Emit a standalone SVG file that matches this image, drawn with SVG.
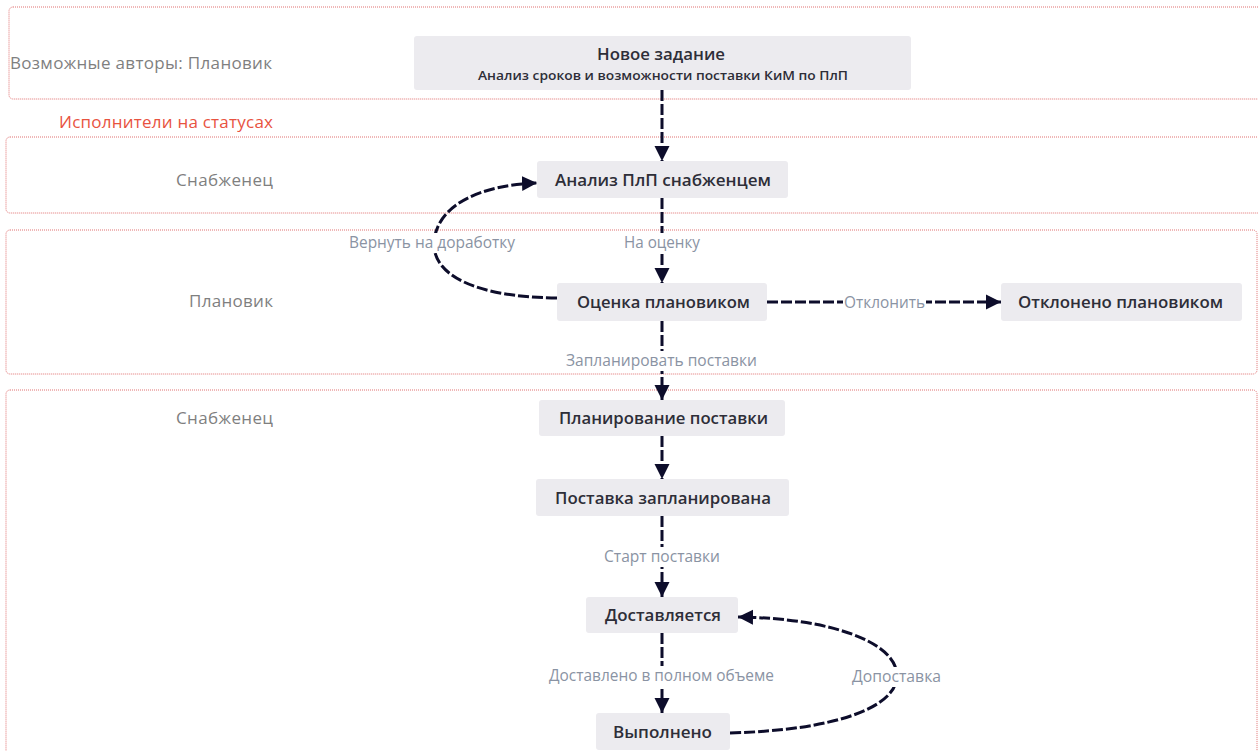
<svg xmlns="http://www.w3.org/2000/svg" width="1258" height="751" viewBox="0 0 1258 751">
<style>
.lane{fill:#fff;stroke:#e07070;stroke-width:1;stroke-dasharray:1 1}
.node rect{fill:#ecebef}
.nt{font-family:"Open Sans","Noto Sans",sans-serif;font-size:17px;font-weight:600;fill:#2e2e38;text-anchor:middle}
.sub{font-family:"Open Sans","Noto Sans",sans-serif;font-size:13px;font-weight:600;fill:#2e2e38;text-anchor:middle}
.ll{font-family:"Open Sans","Noto Sans",sans-serif;font-size:17px;fill:#7f7f7f}
.el{font-family:"Open Sans","Noto Sans",sans-serif;font-size:15.5px;fill:#8a93a3;text-anchor:middle}
.c{fill:none;stroke:#0d0d2b;stroke-width:3;stroke-dasharray:11 3}
.lb{fill:#fff}
</style>
<defs>
<marker id="ah" markerUnits="userSpaceOnUse" markerWidth="18" markerHeight="18" refX="15" refY="9" orient="auto">
<path d="M0,1.5 L15,9 L0,16.5 Z" fill="#0d0d2b"/>
</marker>
</defs>
<rect width="1258" height="751" fill="#fff"/>
<g id="lanes">
<rect class="lane" x="9" y="7" width="1260" height="92" rx="4"/>
<rect class="lane" x="6" y="137" width="1263" height="76" rx="4"/>
<rect class="lane" x="6" y="230" width="1251" height="144" rx="4"/>
<rect class="lane" x="6" y="390" width="1251" height="380" rx="4"/>
<text class="ll" x="10" y="69" textLength="262" lengthAdjust="spacing">Возможные авторы: Плановик</text>
<text class="ll" x="59" y="128" textLength="214" lengthAdjust="spacing" style="fill:#e8533f">Исполнители на статусах</text>
<text class="ll" x="273" y="186" text-anchor="end" textLength="97" lengthAdjust="spacing">Снабженец</text>
<text class="ll" x="273" y="307" text-anchor="end" textLength="84" lengthAdjust="spacing">Плановик</text>
<text class="ll" x="273" y="424" text-anchor="end" textLength="97" lengthAdjust="spacing">Снабженец</text>
</g>
<g id="connectors">
<path class="c" d="M662,90 L662,161" marker-end="url(#ah)"/>
<path class="c" d="M662,198 L662,283" marker-end="url(#ah)"/>
<path class="c" d="M662,321 L662,400" marker-end="url(#ah)"/>
<path class="c" d="M662,436 L662,479" marker-end="url(#ah)"/>
<path class="c" d="M662,516 L662,597" marker-end="url(#ah)"/>
<path class="c" d="M662,633 L662,713" marker-end="url(#ah)"/>
<path class="c" d="M767,302 L1001,302" marker-end="url(#ah)"/>
<path class="c" d="M557,298 C475,297 432,275 434,242 C437,205 480,185 537,183" marker-end="url(#ah)"/>
<path class="c" d="M730,733 C835,730 896,708 897,676 C897,642 830,618 738,617" marker-end="url(#ah)"/>
<rect class="lb" x="622" y="233" width="80" height="20"/>
<text class="el" x="662" y="248" textLength="76" lengthAdjust="spacingAndGlyphs">На оценку</text>
<rect class="lb" x="347" y="233" width="170" height="20"/>
<text class="el" x="432" y="248" textLength="166" lengthAdjust="spacingAndGlyphs">Вернуть на доработку</text>
<rect class="lb" x="843" y="293" width="83" height="20"/>
<text class="el" x="884.5" y="308" textLength="81" lengthAdjust="spacingAndGlyphs">Отклонить</text>
<rect class="lb" x="564" y="351" width="195" height="20"/>
<text class="el" x="661.5" y="366" textLength="191" lengthAdjust="spacingAndGlyphs">Запланировать поставки</text>
<rect class="lb" x="602" y="547" width="120" height="20"/>
<text class="el" x="662" y="562" textLength="116" lengthAdjust="spacingAndGlyphs">Старт поставки</text>
<rect class="lb" x="547" y="666" width="229" height="20"/>
<text class="el" x="661.5" y="681" textLength="225" lengthAdjust="spacingAndGlyphs">Доставлено в полном объеме</text>
<rect class="lb" x="850" y="667" width="93" height="20"/>
<text class="el" x="896.5" y="682" textLength="89" lengthAdjust="spacingAndGlyphs">Допоставка</text>
</g>
<g id="n1" class="node"><rect x="414" y="36" width="497" height="54" rx="3"/><text class="nt" x="661" y="60" textLength="128" lengthAdjust="spacingAndGlyphs">Новое задание</text><text class="sub" x="663" y="80" textLength="370" lengthAdjust="spacingAndGlyphs">Анализ сроков и возможности поставки КиМ по ПлП</text></g>
<g id="n2" class="node"><rect x="537" y="161" width="251" height="37" rx="3"/><text class="nt" x="663" y="186" textLength="216" lengthAdjust="spacingAndGlyphs">Анализ ПлП снабженцем</text></g>
<g id="n3" class="node"><rect x="557" y="283" width="210" height="38" rx="3"/><text class="nt" x="663.5" y="308" textLength="173" lengthAdjust="spacingAndGlyphs">Оценка плановиком</text></g>
<g id="n4" class="node"><rect x="1001" y="283" width="241" height="38" rx="3"/><text class="nt" x="1120.5" y="308" textLength="205" lengthAdjust="spacingAndGlyphs">Отклонено плановиком</text></g>
<g id="n5" class="node"><rect x="539" y="400" width="246" height="36" rx="3"/><text class="nt" x="663.5" y="424" textLength="209" lengthAdjust="spacingAndGlyphs">Планирование поставки</text></g>
<g id="n6" class="node"><rect x="536" y="479" width="253" height="37" rx="3"/><text class="nt" x="663" y="504" textLength="216" lengthAdjust="spacingAndGlyphs">Поставка запланирована</text></g>
<g id="n7" class="node"><rect x="586" y="597" width="152" height="36" rx="3"/><text class="nt" x="663" y="621" textLength="116" lengthAdjust="spacingAndGlyphs">Доставляется</text></g>
<g id="n8" class="node"><rect x="596" y="713" width="134" height="37" rx="3"/><text class="nt" x="662.5" y="738" textLength="99" lengthAdjust="spacingAndGlyphs">Выполнено</text></g>
</svg>
